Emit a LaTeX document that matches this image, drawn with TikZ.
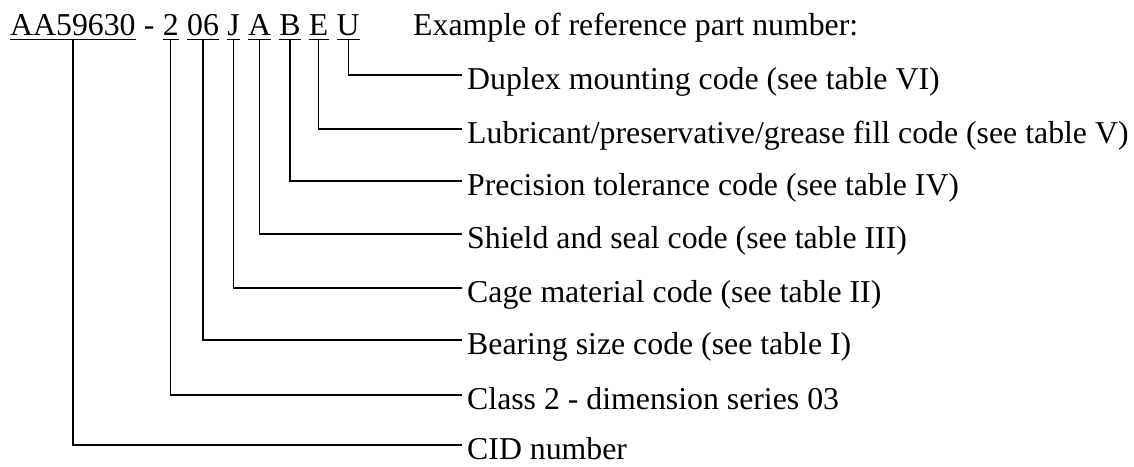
\documentclass[tikz,border=0pt]{standalone}
\usepackage{fontspec}
\setmainfont{Liberation Serif}
\usetikzlibrary{
    positioning
}

\tikzset{
    code/.style={inner xsep=0pt, inner ysep=4pt, text depth=0pt},
    lbl/.style={anchor=west, inner xsep=5pt, inner ysep=0pt, text height=28pt, text depth=0pt},
    lead/.style={line width=1.2pt}
}

\begin{document}
\begin{tikzpicture}[x=1pt, y=-1pt, every node/.style={font=\fontsize{31.8}{38}\selectfont}]
                        \useasboundingbox (0, 0) rectangle (1134, 466);

                        % part number
                        \node[code, anchor=base west] (aa) at (10, 35) {AA59630};
                        \node[code, base right=7.95pt of aa] (dash) {-};
                        \node[code, base right=7.95pt of dash] (two) {2};
                        \node[code, base right=7.95pt of two] (six) {06};
                        \node[code, base right=7.95pt of six] (j) {J};
                        \node[code, base right=7.95pt of j] (a) {A};
                        \node[code, base right=7.95pt of a] (b) {B};
                        \node[code, base right=7.95pt of b] (e) {E};
                        \node[code, base right=7.95pt of e] (u) {U};
                        \node[code, anchor=base west] (title) at (413, 35) {Example of reference part number:};

                        % explanations
                        \node[lbl] (dup) at (462, 75) {Duplex mounting code (see table VI)};
                        \node[lbl] (lub) at (462, 129) {Lubricant/preservative/grease fill code (see table V)};
                        \node[lbl] (prec) at (462, 181) {Precision tolerance code (see table IV)};
                        \node[lbl] (shield) at (462, 234) {Shield and seal code (see table III)};
                        \node[lbl] (cage) at (462, 288) {Cage material code (see table II)};
                        \node[lbl] (size) at (462, 340) {Bearing size code (see table I)};
                        \node[lbl] (class) at (462, 395) {Class 2 - dimension series 03};
                        \node[lbl] (cid) at (462, 445) {CID number};

                        % underlines
                        \draw[lead]
                        (aa.south west) -- (aa.south east)
                        (two.south west) -- (two.south east)
                        (six.south west) -- (six.south east)
                        (j.south west) -- (j.south east)
                        (a.south west) -- (a.south east)
                        (b.south west) -- (b.south east)
                        (e.south west) -- (e.south east)
                        (u.south west) -- (u.south east);

                        % leaders
                        \draw[lead]
                        (u.south) |- (dup.west)
                        (e.south) |- (lub.west)
                        (b.south) |- (prec.west)
                        (a.south) |- (shield.west)
                        (j.south) |- (cage.west)
                        (six.south) |- (size.west)
                        (two.south) |- (class.west)
                        (aa.south) |- (cid.west);
                    \end{tikzpicture}
\end{document}
